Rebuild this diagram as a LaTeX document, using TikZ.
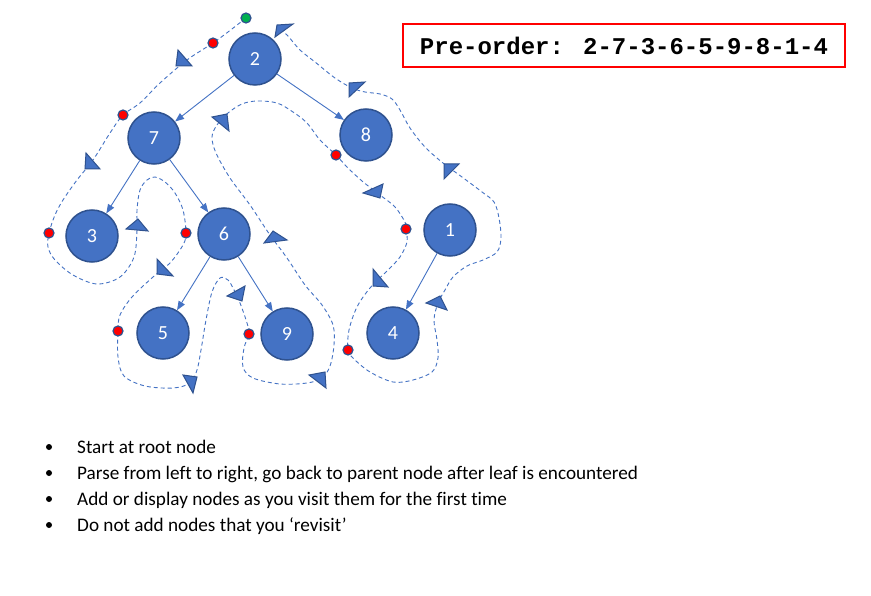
\documentclass[tikz,border=0pt]{standalone}
\usepackage{fontspec}
\setmainfont{Carlito}[Ligatures=NoCommon]
\newfontfamily\monofont{Liberation Mono}
\usetikzlibrary{arrows.meta}
\definecolor{nodeblue}{HTML}{4472C4}
\definecolor{darkblue}{HTML}{2F528F}
\definecolor{startgreen}{HTML}{00B050}
\tikzset{
  treenode/.style={circle, fill=nodeblue, draw=darkblue, line width=1.5pt, minimum size=52pt, inner sep=0pt, text=white, font=\fontsize{20}{24}\selectfont},
  edge/.style={draw=nodeblue, line width=0.9pt, -{Triangle[length=9pt,width=7pt]}},
  walk/.style={draw=nodeblue, line width=0.9pt, dash pattern=on 4pt off 3pt},
  reddot/.style={circle, fill=red, draw=darkblue, line width=1.2pt, minimum size=10pt, inner sep=0pt},
  greendot/.style={reddot, fill=startgreen},
  tri/.style={fill=nodeblue, draw=darkblue, line width=1pt, line join=miter},
  bullettext/.style={anchor=base west, inner sep=0pt, font=\fontsize{19.2}{22}\selectfont},
  bulletdot/.style={circle, fill=black, inner sep=0pt, minimum size=6pt}
}
\begin{document}
\begin{tikzpicture}[x=1pt,y=-1pt]
\useasboundingbox[fill=white] (0,0) rectangle (871,596);

% traversal walk
\draw[walk] plot[smooth, tension=0.55] coordinates {
(246,18) (228,32) (213,43) (187,60) (160,83) (140,103) (123,115) (110,133) (93,160) (77,180) (63,200) (55,215) (49,233)
(48,247) (55,260) (73,275) (97,284) (120,277) (134,257) (137,230) (137,210) (140,190) (147,180) (155,177) (165,182) (175,193) (183,210) (186,233)
(183,245) (170,263) (153,277) (132,297) (120,315) (118,331)
(118,357) (124,376) (145,386) (173,388) (190,383) (197,370) (201,350) (206,320) (212,292) (220,278) (228,280) (234,290) (240,303) (247,323) (249,334)
(244,348) (243,367) (253,378) (280,384) (307,383) (322,378) (330,366) (334,345) (333,325) (322,305) (305,285) (287,258) (270,235) (250,205) (230,178) (216,153) (212,137) (217,125) (228,113) (242,104) (257,101) (277,103) (293,112) (307,123) (320,140) (336,155)
(347,167) (362,181) (380,195) (395,207) (405,222) (406,229)
(407,242) (400,257) (388,270) (370,288) (357,307) (349,330) (348,350)
(354,359) (370,372) (393,382) (413,380) (432,372) (438,358) (437,340) (434,320) (438,303) (445,290) (453,277) (467,266) (483,260) (497,252) (501,238) (499,218) (494,202) (482,192) (462,177) (443,163) (425,147) (410,128) (400,110) (392,99) (380,94) (365,92) (352,88) (335,78) (315,62) (300,50) (287,35) (278,28)
};

% tree nodes
\node[treenode] (n2) at (255,59) {2};
\node[treenode] (n7) at (154,138) {7};
\node[treenode] (n8) at (366,135) {8};
\node[treenode] (n3) at (92,236) {3};
\node[treenode] (n6) at (224,234) {6};
\node[treenode] (n1) at (450,230) {1};
\node[treenode] (n5) at (163,333) {5};
\node[treenode] (n9) at (287,334) {9};
\node[treenode] (n4) at (393,333) {4};

% tree edges
\draw[edge] (n2) -- (n7);
\draw[edge] (n2) -- (n8);
\draw[edge] (n7) -- (n3);
\draw[edge] (n7) -- (n6);
\draw[edge] (n6) -- (n5);
\draw[edge] (n6) -- (n9);
\draw[edge] (n1) -- (n4);

% visit dots
\node[greendot] (g0) at (246,18) {};
\node[reddot] (r2) at (213,43) {};
\node[reddot] (r7) at (123,115) {};
\node[reddot] (r3) at (49,233) {};
\node[reddot] (r6) at (186,233) {};
\node[reddot] (r5) at (118,331) {};
\node[reddot] (r9) at (249,334) {};
\node[reddot] (r8) at (336,155) {};
\node[reddot] (r1) at (406,229) {};
\node[reddot] (r4) at (348,350) {};

% direction triangles
\filldraw[tri] (178,50) -- (176,66) -- (192,66) -- cycle;
\filldraw[tri] (86,153) -- (85,169) -- (100,169) -- cycle;
\filldraw[tri] (277,25) -- (293,24) -- (275,37) -- cycle;
\filldraw[tri] (212,117) -- (227,114) -- (229,131) -- cycle;
\filldraw[tri] (349,83) -- (365,82) -- (349,97) -- cycle;
\filldraw[tri] (363,193) -- (383,184) -- (380,198) -- cycle;
\filldraw[tri] (444,164) -- (459,164) -- (444,179) -- cycle;
\filldraw[tri] (138,219) -- (126,229) -- (148,231) -- cycle;
\filldraw[tri] (157,259) -- (157,274) -- (173,276) -- cycle;
\filldraw[tri] (273,231) -- (264,243) -- (287,240) -- cycle;
\filldraw[tri] (227,296) -- (245,286) -- (242,301) -- cycle;
\filldraw[tri] (183,375) -- (197,377) -- (193,393) -- cycle;
\filldraw[tri] (309,375) -- (325,372) -- (326,388) -- cycle;
\filldraw[tri] (373,269) -- (373,286) -- (388,287) -- cycle;
\filldraw[tri] (426,303) -- (440,296) -- (447,310) -- cycle;

% result box
\node[draw=red, line width=2.5pt, minimum width=442pt, minimum height=43pt, inner sep=0pt,
      font=\monofont\bfseries\fontsize{24}{28}\selectfont] (box) at (624,45.5) {Pre-order: 2-7-3-6-5-9-8-1-4};

% bullet list
\node[bulletdot] (b1) at (49,447) {};
\node[bulletdot] (b2) at (49,473) {};
\node[bulletdot] (b3) at (49,499) {};
\node[bulletdot] (b4) at (49,525) {};
\node[bullettext] (t1) at (77,453) {Start at root node};
\node[bullettext] (t2) at (77,479) {Parse from left to right, go back to parent node after leaf is encountered};
\node[bullettext] (t3) at (77,505) {Add or display nodes as you visit them for the first time};
\node[bullettext] (t4) at (77,531) {Do not add nodes that you ‘revisit’};
\end{tikzpicture}
\end{document}
